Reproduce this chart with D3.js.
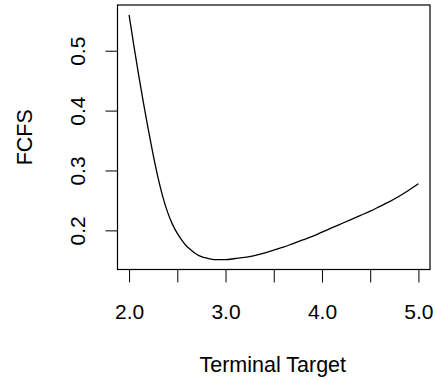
<!DOCTYPE html>
<html>
<head>
<meta charset="utf-8">
<script src="https://cdn.jsdelivr.net/npm/d3@7"></script>
<style>
  body { margin: 0; background: #fff; }
  svg { display: block; }
  text { font-family: "Liberation Sans", Arial, Helvetica, sans-serif; fill: #000; }
</style>
</head>
<body>
<figure id="fcfs" style="margin:0"></figure>
<script>
// curve
const terminalTarget = [2.00, 2.05, 2.10, 2.15, 2.20, 2.25, 2.30, 2.35, 2.40, 2.45,
  2.50, 2.55, 2.60, 2.65, 2.70, 2.75, 2.80, 2.85, 2.90, 3.00, 3.10, 3.20, 3.30,
  3.40, 3.50, 3.60, 3.70, 3.80, 3.90, 4.00, 4.10, 4.20, 4.30, 4.40, 4.50, 4.60,
  4.70, 4.80, 4.90, 5.00];
const fcfs = [0.560, 0.508, 0.459, 0.412, 0.368, 0.326, 0.288, 0.256, 0.230, 0.210,
  0.195, 0.183, 0.173, 0.166, 0.160, 0.156, 0.154, 0.152, 0.151, 0.151, 0.153, 0.155, 0.158,
  0.162, 0.167, 0.172, 0.178, 0.184, 0.190, 0.197, 0.204, 0.211, 0.218, 0.225, 0.232, 0.240,
  0.248, 0.257, 0.267, 0.278];

const xTicks = [2.0, 2.5, 3.0, 3.5, 4.0, 4.5, 5.0];
const xLabelTicks = [2.0, 3.0, 4.0, 5.0];
const yTicks = [0.2, 0.3, 0.4, 0.5];

const xTitle = "Terminal Target";
const yTitle = "FCFS";

const width = 435, height = 380;
const box = { left: 117.5, right: 430, top: 5, bottom: 269.5 };

// R style: pad data range by 4% on each side
function padded(ext) {
  const d = (ext[1] - ext[0]) * 0.04;
  return [ext[0] - d, ext[1] + d];
}

const svg = d3.select("figure#fcfs")
  .append("svg")
  .attr("width", width)
  .attr("height", height);

const x = d3.scaleLinear()
  .domain(padded(d3.extent(terminalTarget)))
  .range([box.left, box.right]);

const y = d3.scaleLinear()
  .domain(padded(d3.extent(fcfs)))
  .range([box.bottom, box.top]);

const fmt = d3.format(".1f");

// x axis
const xAxis = d3.axisBottom(x)
  .tickValues(xTicks)
  .tickSize(13)
  .tickSizeOuter(0)
  .tickFormat(d => xLabelTicks.includes(d) ? fmt(d) : "");

const gx = svg.append("g")
  .attr("transform", "translate(0," + box.bottom + ")")
  .call(xAxis);
gx.select(".domain").attr("d", "M" + x(xTicks[0]) + ",0H" + x(xTicks[xTicks.length - 1]));
gx.selectAll("line").attr("stroke", "#000");
gx.selectAll("text")
  .attr("y", 49)
  .attr("dy", null)
  .attr("font-size", 21)
  .style("fill", "#000");

// y axis
const yAxis = d3.axisLeft(y)
  .tickValues(yTicks)
  .tickSize(12)
  .tickSizeOuter(0)
  .tickFormat(fmt);

const gy = svg.append("g")
  .attr("transform", "translate(" + box.left + ",0)")
  .call(yAxis);
gy.select(".domain").attr("d", "M0," + y(yTicks[0]) + "V" + y(yTicks[yTicks.length - 1]));
gy.selectAll("line").attr("stroke", "#000");
gy.selectAll("text")
  .attr("x", null)
  .attr("dy", null)
  .attr("text-anchor", "middle")
  .attr("transform", "translate(-32.5,0) rotate(-90)")
  .attr("font-size", 21)
  .style("fill", "#000");

// plot box
svg.append("rect")
  .attr("x", box.left)
  .attr("y", box.top)
  .attr("width", box.right - box.left)
  .attr("height", box.bottom - box.top)
  .attr("fill", "none")
  .attr("stroke", "#000")
  .attr("stroke-width", 1.2);

// curve
const line = d3.line()
  .x((d, i) => x(terminalTarget[i]))
  .y(d => y(d))
  .curve(d3.curveMonotoneX);

svg.append("path")
  .datum(fcfs)
  .attr("d", line)
  .attr("fill", "none")
  .attr("stroke", "#000")
  .attr("stroke-width", 1.3);

// titles
svg.append("text")
  .attr("x", (box.left + box.right) / 2 - 1)
  .attr("y", 371.5)
  .attr("text-anchor", "middle")
  .attr("font-size", 21.5)
  .text(xTitle);

svg.append("text")
  .attr("transform", "translate(31.5," + (box.top + box.bottom) / 2 + ") rotate(-90)")
  .attr("text-anchor", "middle")
  .attr("font-size", 21.5)
  .text(yTitle);
</script>
</body>
</html>
